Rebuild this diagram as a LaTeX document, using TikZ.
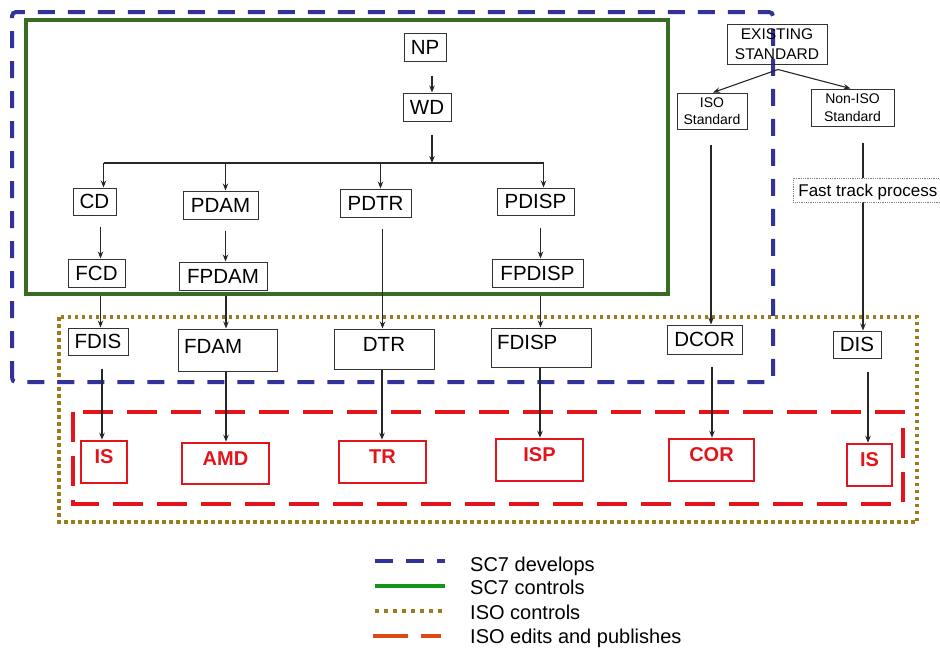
\documentclass[tikz,border=0pt]{standalone}
\usepackage{fontspec}
\setmainfont{Liberation Sans}
\usetikzlibrary{arrows.meta,calc}
\definecolor{sevblue}{HTML}{32329A}
\definecolor{frgreen}{HTML}{3B6B22}
\definecolor{lggreen}{HTML}{14941A}
\definecolor{isoolive}{HTML}{9C7C1C}
\definecolor{isored}{HTML}{E3141B}
\definecolor{legred}{HTML}{DD4A12}
\definecolor{boxline}{HTML}{333333}
\newcommand{\vlnk}[4]{\draw[arr,shorten <=#4] ([xshift=#3]#1.south) -- ([xshift=#3]#1.south |- #2.north);}
\begin{document}
\begin{tikzpicture}[x=1pt,y=-1pt,
  box/.style={draw=boxline, line width=1pt, inner sep=0pt, font=\fontsize{20.5}{24}\selectfont, text height=14.7pt, text depth=0pt},
  sbox/.style={draw=boxline, line width=1pt, inner sep=0pt, align=center},
  redbox/.style={draw=isored, line width=2.5pt, inner sep=0pt, text=isored, font=\bfseries\fontsize{20}{24}\selectfont, text height=14.4pt, text depth=11pt},
  arr/.style={draw=black!85, line width=1.1pt, -{Stealth[length=7pt,width=5.5pt]}},
  ln/.style={draw=black!85, line width=1.1pt},
  legtxt/.style={inner sep=0pt, anchor=west, font=\fontsize{20}{24}\selectfont, text height=14.3pt, text depth=0pt},
]
\useasboundingbox (0,0) rectangle (940,648);
\clip (0,0) rectangle (940,648);

% frames
\draw[frgreen, line width=4pt] (26,20) rectangle (668,294);
\draw[isoolive, line width=3.5pt, dash pattern=on 3.5pt off 3.5pt] (59,317) rectangle (917,522);
\draw[isored, line width=3.5pt, dash pattern=on 30pt off 14pt] (73,412) rectangle (903,504);
\draw[sevblue, line width=4pt, dash pattern=on 17pt off 13pt, rounded corners=4pt] (12,382) -- (12,12) -- (773,12) -- (773,382) -- cycle;

% SC7 boxes
\node[box, minimum width=42pt, minimum height=28pt] (NP) at (425,47) {NP};
\node[box, minimum width=48pt, minimum height=28pt] (WD) at (427,107) {WD};
\node[box, minimum width=43pt, minimum height=27pt] (CD) at (94.5,201.5) {CD};
\node[box, minimum width=75pt, minimum height=28pt] (PDAM) at (220.5,205) {PDAM};
\node[box, minimum width=71pt, minimum height=28pt] (PDTR) at (375.5,203) {PDTR};
\node[box, minimum width=77pt, minimum height=27pt] (PDISP) at (535.5,201.5) {PDISP};
\node[box, minimum width=57pt, minimum height=28pt] (FCD) at (96.5,273) {FCD};
\node[box, minimum width=88pt, minimum height=28pt] (FPDAM) at (223,276) {FPDAM};
\node[box, minimum width=91pt, minimum height=28pt] (FPDISP) at (537.5,273) {FPDISP};

% second row
\node[box, minimum width=60pt, minimum height=27pt] (FDIS) at (98,341.5) {FDIS};
\node[box, minimum width=99pt, minimum height=42pt, text depth=8.5pt, inner xsep=6pt, text width=87pt, align=left] (FDAM) at (227.5,350) {FDAM};
\node[box, minimum width=100pt, minimum height=40pt, text depth=10.5pt] (DTR) at (384,349) {DTR};
\node[box, minimum width=100pt, minimum height=39pt, text depth=11.5pt, inner xsep=6pt, text width=88pt, align=left] (FDISP) at (541,347.5) {FDISP};
\node[box, minimum width=75pt, minimum height=29pt] (DCOR) at (704.5,339.5) {DCOR};
\node[box, minimum width=48pt, minimum height=27pt] (DIS) at (857,344.5) {DIS};

% existing standard
\node[sbox, minimum width=100pt, minimum height=40pt, font=\fontsize{15.5}{20}\selectfont] (EX) at (777,44) {EXISTING\\STANDARD};
\node[sbox, minimum width=70pt, minimum height=36pt, font=\fontsize{14}{17}\selectfont] (ISO) at (712,111) {ISO\\Standard};
\node[sbox, minimum width=83pt, minimum height=37pt, font=\fontsize{14}{18}\selectfont] (NON) at (852.5,107.5) {Non-ISO\\Standard};

% red boxes
\node[redbox, minimum width=46pt, minimum height=42pt] (IS1) at (104,462) {IS};
\node[redbox, minimum width=87pt, minimum height=41pt] (AMD) at (225.5,463.5) {AMD};
\node[redbox, minimum width=87pt, minimum height=42pt] (TR) at (382.5,462) {TR};
\node[redbox, minimum width=87pt, minimum height=42pt] (ISP) at (539.5,460) {ISP};
\node[redbox, minimum width=85pt, minimum height=42pt] (COR) at (711.5,460) {COR};
\node[redbox, minimum width=45pt, minimum height=42pt] (IS2) at (869.5,465) {IS};

% connectors
\vlnk{NP}{WD}{7pt}{14pt}
\coordinate (bus) at (432,163);
\draw[arr, shorten <=13pt] ([xshift=5pt]WD.south) -- ([xshift=5pt]WD.south |- bus);
\draw[ln] ([xshift=9pt]CD.north |- bus) -- ([xshift=8pt]PDISP.north |- bus);
\draw[arr] ([xshift=9pt]CD.north |- bus) -- ([xshift=9pt]CD.north);
\draw[arr] ([xshift=5pt]PDAM.north |- bus) -- ([xshift=5pt]PDAM.north);
\draw[arr] ([xshift=5pt]PDTR.north |- bus) -- ([xshift=5pt]PDTR.north);
\draw[arr] ([xshift=8pt]PDISP.north |- bus) -- ([xshift=8pt]PDISP.north);

\vlnk{CD}{FCD}{6pt}{11pt}
\vlnk{FCD}{FDIS}{4pt}{8pt}
\vlnk{PDAM}{FPDAM}{5pt}{11pt}
\vlnk{FPDAM}{FDAM}{3pt}{5pt}
\vlnk{PDTR}{DTR}{7pt}{11pt}
\vlnk{PDISP}{FPDISP}{5pt}{12pt}
\vlnk{FPDISP}{FDISP}{3pt}{8pt}
\vlnk{FDIS}{IS1}{4pt}{13pt}
\vlnk{FDAM}{AMD}{-1.5pt}{0pt}
\vlnk{DTR}{TR}{-2pt}{0pt}
\vlnk{FDISP}{ISP}{-1pt}{0pt}
\vlnk{DCOR}{COR}{7.5pt}{12pt}
\vlnk{DIS}{IS2}{11pt}{13pt}
\vlnk{ISO}{DCOR}{-1pt}{15pt}
\vlnk{NON}{DIS}{10.5pt}{16pt}

\coordinate (ex) at ([xshift=1pt,yshift=-5pt]EX.south);
\draw[arr] (ex) -- ([xshift=1pt]ISO.north);
\draw[arr] (ex) -- ([xshift=-2pt]NON.north);

% fast track (on top of line)
\node[draw=gray, densely dotted, line width=0.8pt, fill=white, anchor=west, inner xsep=5pt, inner ysep=0pt, minimum height=24pt, font=\fontsize{17}{20}\selectfont, text height=12.2pt, text depth=0pt] (FAST) at (793,190) {Fast track process};

% legend
\node[legtxt] (L1) at (470,564) {SC7 develops};
\node[legtxt] (L2) at (470,587) {SC7 controls};
\node[legtxt] (L3) at (470,612) {ISO controls};
\node[legtxt] (L4) at (470,636) {ISO edits and publishes};
\draw[sevblue, line width=4pt, dash pattern=on 18pt off 13pt] ([xshift=-95pt,yshift=3pt]L1.west) -- ([xshift=-25pt,yshift=3pt]L1.west);
\draw[lggreen, line width=4pt] ([xshift=-95pt,yshift=1pt]L2.west) -- ([xshift=-25pt,yshift=1pt]L2.west);
\draw[isoolive, line width=3.5pt, dash pattern=on 3.5pt off 5.5pt] ([xshift=-95pt,yshift=1pt]L3.west) -- ([xshift=-25pt,yshift=1pt]L3.west);
\draw[legred, line width=4pt, dash pattern=on 35pt off 13pt] ([xshift=-97pt]L4.west) -- ([xshift=-29pt]L4.west);
\end{tikzpicture}
\end{document}
